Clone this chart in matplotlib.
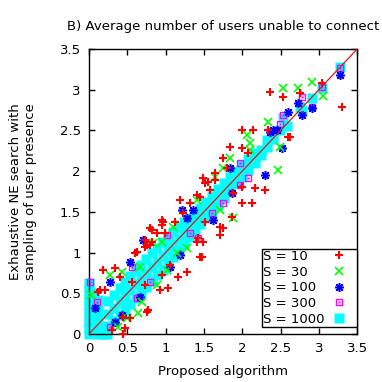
import numpy as np
import matplotlib
matplotlib.use('Agg')
import matplotlib.pyplot as plt
from matplotlib.legend_handler import HandlerTuple

# (proposed algorithm, exhaustive NE search) pairs
s10 = np.array([
    (2.36, 2.97), (2.53, 2.91), (2.75, 2.96), (3.04, 3.08), (3.30, 2.79),
    (2.60, 2.42), (2.34, 2.51), (2.00, 2.51), (2.14, 2.51), (1.84, 2.30),
    (2.00, 2.28), (2.08, 2.22), (1.75, 2.16), (1.80, 2.04), (1.49, 1.92),
    (1.64, 1.98), (1.64, 1.89), (1.88, 1.73), (2.00, 1.81), (2.17, 1.79),
    (2.30, 1.77), (2.00, 1.61), (2.13, 1.61), (1.87, 1.44), (1.75, 1.30),
    (1.71, 1.22), (1.41, 1.71), (1.32, 1.61), (1.23, 1.49), (1.19, 1.65),
    (1.55, 1.87), (1.58, 1.77), (1.45, 1.68), (1.12, 1.38), (0.97, 1.38),
    (0.82, 1.28), (0.89, 1.24), (0.73, 1.15), (0.82, 1.13), (0.80, 1.09),
    (0.73, 1.07), (0.63, 1.01), (1.51, 1.85), (1.45, 0.95), (1.51, 1.38),
    (1.42, 1.18), (1.49, 1.13), (1.71, 1.31), (1.47, 0.95), (1.41, 1.13),
    (1.28, 0.76), (0.95, 1.40), (0.99, 1.24), (0.18, 0.79), (0.34, 0.81),
    (0.14, 0.54), (0.47, 0.07), (0.40, 0.70), (0.95, 1.34), (0.76, 1.09),
    (0.80, 1.30), (1.16, 0.70), (1.03, 0.56), (0.93, 0.54), (0.77, 0.29),
    (0.54, 0.20), (0.44, 0.21), (0.60, 1.00), (0.21, 0.54), (0.12, 0.52),
    (0.30, 0.05), (0.76, 0.27), (0.95, 0.72), (1.06, 0.85), (0.73, 0.60),
    (0.56, 0.64), (0.45, 0.00), (2.62, 2.42),
])

s30 = np.array([
    (2.53, 3.02), (2.73, 3.02), (2.91, 3.10), (3.05, 2.92), (2.34, 2.60),
    (2.06, 2.44), (2.10, 2.35), (2.10, 2.26), (1.84, 2.16), (1.75, 2.04),
    (1.64, 1.93), (2.47, 2.01), (1.88, 1.43), (1.71, 1.52), (1.41, 1.65),
    (2.49, 2.30), (0.27, 0.72), (0.43, 0.76), (0.67, 0.82), (0.84, 1.12),
    (0.95, 1.13), (1.10, 1.31), (1.15, 0.99), (1.02, 0.79), (0.89, 0.60),
    (0.69, 0.39), (0.50, 0.20), (0.38, 0.09), (0.64, 0.26), (1.28, 1.06),
    (0.02, 0.48),
])

s100 = np.array([
    (2.60, 2.73), (2.78, 2.69), (2.73, 2.84), (2.91, 2.78), (3.28, 3.18),
    (2.40, 2.51), (2.36, 2.48), (2.30, 1.95), (1.84, 2.04), (1.87, 1.73),
    (1.62, 1.40), (1.36, 1.52), (1.28, 1.43), (2.45, 2.51), (2.52, 2.29),
    (0.54, 0.88), (0.67, 0.45), (1.19, 0.97), (1.21, 1.52), (0.34, 0.15),
    (0.08, 0.32), (0.27, 0.64), (0.70, 1.15), (0.43, 0.23), (1.06, 0.82),
])

s300 = np.array([
    (2.78, 2.91), (2.91, 2.79), (2.53, 2.69), (3.04, 3.03), (3.28, 3.27),
    (1.97, 2.10), (2.08, 1.92), (1.97, 1.83), (1.75, 1.61), (1.61, 1.49),
    (0.01, 0.64), (0.56, 0.82), (0.63, 0.44), (0.80, 0.64), (1.02, 1.22),
    (1.32, 1.24), (1.42, 1.18), (0.27, 0.09), (0.10, 0.39), (2.49, 2.58),
])

s1000 = np.array([
    (0.00, 0.00), (0.00, 0.07), (0.00, 0.14), (0.00, 0.21), (0.00, 0.28),
    (0.00, 0.35), (0.00, 0.42), (0.00, 0.49), (0.00, 0.56), (0.00, 0.63),
    (0.06, 0.03), (0.06, 0.12), (0.06, 0.21), (0.06, 0.30), (0.06, 0.40),
    (0.06, 0.50), (0.12, 0.00), (0.12, 0.10), (0.12, 0.20), (0.12, 0.30),
    (0.12, 0.42), (0.18, 0.00), (0.24, 0.00), (0.20, 0.08),
    (0.25, 0.10), (0.25, 0.25), (0.25, 0.40),
    (0.32, 0.16), (0.32, 0.32), (0.32, 0.48),
    (0.40, 0.23), (0.40, 0.40), (0.40, 0.57),
    (0.47, 0.30), (0.47, 0.47), (0.47, 0.64),
    (0.54, 0.37), (0.54, 0.54), (0.54, 0.71),
    (0.61, 0.44), (0.61, 0.61), (0.61, 0.78),
    (0.68, 0.51), (0.68, 0.68), (0.68, 0.85),
    (0.75, 0.58), (0.75, 0.75), (0.75, 0.92),
    (0.82, 0.65), (0.82, 0.82), (0.82, 0.99),
    (0.89, 0.72), (0.89, 0.89), (0.89, 1.06),
    (0.96, 0.79), (0.96, 0.96), (0.96, 1.13),
    (1.03, 0.87), (1.03, 1.03), (1.03, 1.19),
    (1.10, 0.95), (1.10, 1.10), (1.10, 1.25),
    (1.17, 1.03), (1.17, 1.17), (1.17, 1.31),
    (1.24, 1.11), (1.24, 1.24), (1.24, 1.37),
    (1.31, 1.19), (1.31, 1.31), (1.31, 1.43),
    (1.38, 1.27), (1.38, 1.38), (1.38, 1.49),
    (1.45, 1.35), (1.45, 1.45), (1.45, 1.55),
    (1.52, 1.42), (1.52, 1.52), (1.52, 1.62),
    (1.60, 1.50), (1.60, 1.60), (1.60, 1.70),
    (1.68, 1.58), (1.68, 1.68), (1.68, 1.78),
    (1.76, 1.67), (1.76, 1.76), (1.76, 1.86),
    (1.84, 1.76), (1.84, 1.84), (1.84, 1.93),
    (1.92, 1.85), (1.92, 1.92), (1.92, 2.00),
    (2.00, 1.93), (2.00, 2.00), (2.00, 2.08),
    (2.08, 2.02), (2.08, 2.08), (2.08, 2.15),
    (2.16, 2.10), (2.16, 2.16), (2.16, 2.22),
    (2.24, 2.20), (2.24, 2.26), (2.32, 2.30), (2.32, 2.38),
    (2.40, 2.40), (2.40, 2.45), (2.49, 2.51), (2.53, 2.65),
    (2.58, 2.56), (2.75, 2.79), (2.78, 2.75), (2.91, 2.90),
    (3.04, 3.02), (3.28, 3.28),
])

ticks = [0, 0.5, 1, 1.5, 2, 2.5, 3, 3.5]
tick_labels = ['0', '0.5', '1', '1.5', '2', '2.5', '3', '3.5']

fs = 9.5
fig = plt.figure(figsize=(3.82, 3.82), dpi=100)
ax = fig.add_axes([0.233, 0.1257, 0.702, 0.746])

# cyan first, the others drawn on top of it
h1000, = ax.plot(s1000[:, 0], s1000[:, 1], 's', ms=6.5, color='#00ffff',
                 mec='none', clip_on=False, zorder=2)
h300a, = ax.plot(s300[:, 0], s300[:, 1], 's', ms=5, mfc='none', mec='#ff00ff',
                 mew=1.0, clip_on=False, zorder=3)
h300b, = ax.plot(s300[:, 0], s300[:, 1], 's', ms=1.6, color='#ff00ff',
                 mec='none', clip_on=False, zorder=3)
h100, = ax.plot(s100[:, 0], s100[:, 1], marker=(8, 2, 0), ls='none', ms=6.5,
                color='#0000ff', mew=1.1, clip_on=False, zorder=4)
h30, = ax.plot(s30[:, 0], s30[:, 1], 'x', ms=5.5, color='#00ff00',
               mew=1.2, clip_on=False, zorder=5)
h10, = ax.plot(s10[:, 0], s10[:, 1], '+', ms=6, color='#ff0000',
               mew=1.5, clip_on=False, zorder=6)

# y = x reference
ax.plot([0, 3.5], [0, 3.5], '-', color='#e01818', lw=0.9, zorder=7)

ax.set_xlim(0, 3.5)
ax.set_ylim(0, 3.5)
ax.set_xticks(ticks)
ax.set_xticklabels(tick_labels)
ax.set_yticks(ticks)
ax.set_yticklabels(tick_labels)
ax.tick_params(direction='in', top=True, right=True, length=4, width=1,
               labelsize=fs, pad=6)
for sp in ax.spines.values():
    sp.set_linewidth(1)
    sp.set_color('black')

ax.set_title('B) Average number of users unable to connect', fontsize=fs, pad=14)
ax.set_xlabel('Proposed algorithm', fontsize=fs, labelpad=7)
ax.set_ylabel('Exhaustive NE search with\nsampling of user presence', fontsize=fs,
              labelpad=16)

leg = ax.legend([h10, h30, h100, (h300a, h300b), h1000],
                ['S = 10', 'S = 30', 'S = 100', 'S = 300', 'S = 1000'],
                handler_map={tuple: HandlerTuple(ndivide=1)},
                loc='lower right', bbox_to_anchor=(1.0, 0.0246),
                borderaxespad=0, markerfirst=False, fancybox=False,
                framealpha=1, edgecolor='black', fontsize=fs,
                borderpad=0.1, handlelength=2.5, labelspacing=0.2)
leg.get_frame().set_linewidth(1.0)
leg.set_zorder(10)
# text flush left, markers in one column on the right
for col in leg._legend_handle_box.get_children():
    for item in col.get_children():
        item.mode = 'expand'
        item.width = 93

fig.savefig('out.png', dpi=100)
